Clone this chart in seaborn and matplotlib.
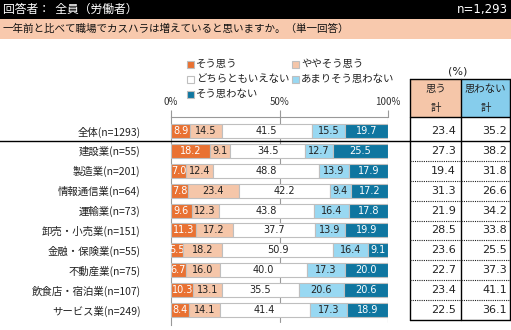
import matplotlib
matplotlib.use("Agg")
import matplotlib.pyplot as plt
import seaborn as sns
import numpy as np
import pandas as pd
from matplotlib.patches import Rectangle

sns.set_theme(style="white")
plt.rcParams['font.family'] = ['Noto Sans CJK JP', 'DejaVu Sans']

categories = ["全体(n=1293)", "建設業(n=55)", "製造業(n=201)", "情報通信業(n=64)",
              "運輸業(n=73)", "卸売・小売業(n=151)", "金融・保険業(n=55)",
              "不動産業(n=75)", "飲食店・宿泊業(n=107)", "サービス業(n=249)"]
series_names = ["そう思う", "ややそう思う", "どちらともいえない", "あまりそう思わない", "そう思わない"]
s1 = [8.9, 18.2, 7.0, 7.8, 9.6, 11.3, 5.5, 6.7, 10.3, 8.4]
s2 = [14.5, 9.1, 12.4, 23.4, 12.3, 17.2, 18.2, 16.0, 13.1, 14.1]
s3 = [41.5, 34.5, 48.8, 42.2, 43.8, 37.7, 50.9, 40.0, 35.5, 41.4]
s4 = [15.5, 12.7, 13.9, 9.4, 16.4, 13.9, 16.4, 17.3, 20.6, 17.3]
s5 = [19.7, 25.5, 17.9, 17.2, 17.8, 19.9, 9.1, 20.0, 20.6, 18.9]
total_yes = [23.4, 27.3, 19.4, 31.3, 21.9, 28.5, 23.6, 22.7, 23.4, 22.5]
total_no = [35.2, 38.2, 31.8, 26.6, 34.2, 33.8, 25.5, 37.3, 41.1, 36.1]
x_ticks = [0, 50, 100]
x_tick_labels = ["0%", "50%", "100%"]

colors = ["#E97132", "#F5C6A9", "#FFFFFF", "#98D8F2", "#0F76A0"]
text_colors = ["white", "#222222", "#222222", "#222222", "white"]

W, H = 511, 330
fig = plt.figure(figsize=(W / 100, H / 100), dpi=100)

def fx(px):
    return px / W

def fy(py):
    return 1 - py / H

# bar axes geometry (pixels)
bx0, bx1 = 171, 388
by0, by1 = 117, 325
ax = fig.add_axes([fx(bx0), fy(by1), fx(bx1 - bx0), (by1 - by0) / H])

series = [s1, s2, s3, s4, s5]
left = np.zeros(len(categories))
for name, vals, col, tcol in zip(series_names, series, colors, text_colors):
    df = pd.DataFrame({"cat": categories, "val": vals})
    sns.barplot(data=df, x="val", y="cat", order=categories, color=col, ax=ax,
                left=left, width=0.7, edgecolor="#BFBFBF", linewidth=0.8,
                saturation=1, zorder=3, errorbar=None)
    cont = ax.containers[-1]
    ax.bar_label(cont, labels=[f"{v:.1f}" for v in vals], label_type="center",
                 color=tcol, fontsize=7, family=['DejaVu Sans'])
    left = left + np.array(vals)

ax.set_xlim(0, 100)
ax.set_ylim(len(categories) - 0.25, -0.7)
ax.set_xticks(x_ticks)
ax.set_xticklabels(x_tick_labels, fontsize=7, color="#333333")
ax.xaxis.set_ticks_position("top")
ax.xaxis.set_label_position("top")
ax.tick_params(axis="x", top=True, bottom=False, direction="out", length=5,
               width=0.8, color="#999999", pad=2)
ax.set_xlabel("")
ax.set_ylabel("")
ax.set_yticks(range(len(categories)))
ax.set_yticklabels(categories, fontsize=7.5, color="#222222")
ax.tick_params(axis="y", left=False, pad=16)
for s in ["right", "bottom"]:
    ax.spines[s].set_visible(False)
ax.spines["top"].set_color("#999999")
ax.spines["top"].set_linewidth(0.8)
ax.spines["left"].set_color("#999999")
ax.spines["left"].set_linewidth(0.8)
ax.set_facecolor("none")
ax.grid(False)
for xt in x_ticks[1:]:
    ax.plot([xt, xt], [-0.7, len(categories) - 0.4], color="#999999", lw=0.8, zorder=1)

# table axes (shares rows with bars)
tx0, tmid, tx1 = 410, 461, 510
tax = fig.add_axes([fx(tx0), fy(by1), fx(tx1 - tx0), (by1 - by0) / H], sharey=ax)
tax.set_xlim(tx0, tx1)
tax.axis("off")
for i, (a, b) in enumerate(zip(total_yes, total_no)):
    tax.text(tmid - 5, i, f"{a:.1f}", ha="right", va="center", fontsize=8,
             color="#222222", family=['DejaVu Sans'])
    tax.text(tx1 - 3, i, f"{b:.1f}", ha="right", va="center", fontsize=8,
             color="#222222", family=['DejaVu Sans'])
for i in range(1, len(categories) - 1):
    tax.plot([tx0, tx1], [i + 0.5, i + 0.5], color="#222222", lw=0.8,
             ls=(0, (1, 1)), clip_on=False)

# overlay axes in pixel coords
ov = fig.add_axes([0, 0, 1, 1], zorder=-1)
ov.set_xlim(0, W)
ov.set_ylim(H, 0)
ov.axis("off")

# header bands
ov.add_patch(Rectangle((0, 0), W, 18.5, facecolor="black", edgecolor="none"))
ov.add_patch(Rectangle((0, 18.5), W, 20.5, facecolor="#F8C9AD", edgecolor="none"))
ov.text(3, 9.5, "回答者：  全員（労働者）", color="white", fontsize=8.5, va="center", ha="left")
ov.text(508, 9.5, "n=1,293", color="white", fontsize=8.5, va="center", ha="right",
        family=['DejaVu Sans'])
ov.text(3, 29, "一年前と比べて職場でカスハラは増えていると思いますか。（単一回答）",
        color="#111111", fontsize=7.6, va="center", ha="left")

# legend
leg_pos = [(190, 64), (295, 64), (190, 79), (295, 79), (190, 94)]
for (lx, ly), name, col in zip(leg_pos, series_names, colors):
    ov.add_patch(Rectangle((lx - 3.5, ly - 3.5), 7, 7, facecolor=col,
                           edgecolor="#BFBFBF", lw=0.8))
    ov.text(lx + 6, ly, name, fontsize=7.5, va="center", ha="left", color="#222222")

# table header
ov.text(458, 71, "(%)", fontsize=8, ha="center", va="center", color="#222222",
        family=['DejaVu Sans'])
ov.add_patch(Rectangle((tx0, 79), tmid - tx0, 38, facecolor="#F5C6A9", edgecolor="none"))
ov.add_patch(Rectangle((tmid, 79), tx1 - tmid, 38, facecolor="#86CDEC", edgecolor="none"))
ov.text((tx0 + tmid) / 2, 89, "思う", fontsize=7.5, ha="center", va="center", color="#222222")
ov.text((tx0 + tmid) / 2, 108, "計", fontsize=7.5, ha="center", va="center", color="#222222")
ov.text((tmid + tx1) / 2, 89, "思わない", fontsize=7.5, ha="center", va="center", color="#222222")
ov.text((tmid + tx1) / 2, 108, "計", fontsize=7.5, ha="center", va="center", color="#222222")
table_bottom = 320
for x in [tx0, tmid, tx1]:
    ov.plot([x, x], [79, table_bottom], color="black", lw=1)
for y in [79, 117, table_bottom]:
    ov.plot([tx0, tx1], [y, y], color="black", lw=1)

# separator under 全体 (full width) drawn in bar-axes data coords
ax.plot([-100, 156], [0.5, 0.5], color="black", lw=1, clip_on=False, zorder=5)

fig.savefig("out.png", dpi=100)
